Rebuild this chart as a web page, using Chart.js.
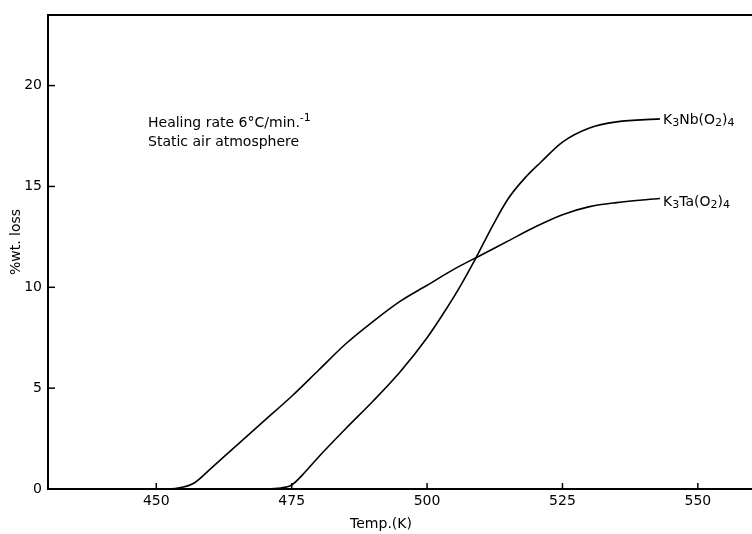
<!DOCTYPE html>
<html>
<head>
<meta charset="utf-8">
<script src="https://cdn.jsdelivr.net/npm/chart.js@4"></script>
<style>
html, body { margin: 0; padding: 0; background: #fff; }
</style>
</head>
<body>
<canvas id="chart" width="752" height="534"></canvas>
<script>
// tick labels
const xTicks = [450, 475, 500, 525, 550];
const yTicks = [0, 5, 10, 15, 20];

// K3Ta(O2)4 curve
const taTemp = [449, 452, 455, 457, 460, 465, 470, 475, 480, 485, 490, 495, 500, 505, 510, 515, 520, 525, 530, 535, 543];
const taLoss = [0, 0, 0.1, 0.3, 1.0, 2.2, 3.4, 4.6, 5.9, 7.2, 8.3, 9.3, 10.1, 10.9, 11.6, 12.3, 13.0, 13.6, 14.0, 14.2, 14.4];

// K3Nb(O2)4 curve
const nbTemp = [469, 473, 475, 477, 480, 485, 490, 495, 500, 503, 506, 509, 512, 515, 518, 521, 525, 530, 535, 543];
const nbLoss = [0, 0.05, 0.2, 0.7, 1.6, 3.0, 4.35, 5.8, 7.5, 8.7, 10.0, 11.45, 13.0, 14.4, 15.4, 16.2, 17.2, 17.9, 18.2, 18.35];

const FONT = '"DejaVu Sans", sans-serif';

function toPoints(xs, ys) {
    return xs.map((x, i) => ({ x: x, y: ys[i] }));
}

// draws text with subscripts: parts = [[text, shift], ...]
function drawParts(ctx, x, y, parts, size) {
    let cx = x;
    parts.forEach(p => {
        const small = p[1] !== 0;
        ctx.font = (small ? Math.round(size * 0.75) : size) + 'px ' + FONT;
        ctx.fillText(p[0], cx, y + p[1]);
        cx += ctx.measureText(p[0]).width;
    });
}

const framePlugin = {
    id: 'frame',
    afterDraw(chart) {
        const ctx = chart.ctx;
        const area = chart.chartArea;
        const xs = chart.scales.x;
        const ys = chart.scales.y;
        ctx.save();
        ctx.strokeStyle = '#000';
        ctx.fillStyle = '#000';

        // top frame line
        ctx.lineWidth = 2;
        ctx.beginPath();
        ctx.moveTo(area.left, area.top);
        ctx.lineTo(area.right, area.top);
        ctx.stroke();

        // inward tick marks
        ctx.lineWidth = 1.5;
        xTicks.forEach(v => {
            const px = xs.getPixelForValue(v);
            ctx.beginPath();
            ctx.moveTo(px, area.bottom);
            ctx.lineTo(px, area.bottom - 6);
            ctx.stroke();
        });
        yTicks.forEach(v => {
            const py = ys.getPixelForValue(v);
            ctx.beginPath();
            ctx.moveTo(area.left, py);
            ctx.lineTo(area.left + 7, py);
            ctx.stroke();
        });

        ctx.textBaseline = 'middle';
        ctx.textAlign = 'left';

        // annotation
        drawParts(ctx, 148, 123, [['Healing rate 6°C/min.', 0], ['-1', -5]], 14);
        drawParts(ctx, 148, 142, [['Static air atmosphere', 0]], 14);

        // series labels
        drawParts(ctx, 663, 120, [['K', 0], ['3', 3], ['Nb(O', 0], ['2', 3], [')', 0], ['4', 3]], 14);
        drawParts(ctx, 663, 202, [['K', 0], ['3', 3], ['Ta(O', 0], ['2', 3], [')', 0], ['4', 3]], 14);

        // axis titles
        ctx.textAlign = 'center';
        ctx.font = '14px ' + FONT;
        ctx.fillText('Temp.(K)', 381, 524);
        ctx.translate(16, 242);
        ctx.rotate(-Math.PI / 2);
        ctx.fillText('%wt. loss', 0, 0);
        ctx.restore();
    }
};

const lineStyle = {
    borderColor: '#000',
    borderWidth: 1.6,
    pointRadius: 0,
    fill: false,
    cubicInterpolationMode: 'monotone'
};

new Chart(document.getElementById('chart').getContext('2d'), {
    type: 'line',
    data: {
        datasets: [
            Object.assign({ label: 'K3Ta(O2)4', data: toPoints(taTemp, taLoss) }, lineStyle),
            Object.assign({ label: 'K3Nb(O2)4', data: toPoints(nbTemp, nbLoss) }, lineStyle)
        ]
    },
    options: {
        responsive: false,
        animation: false,
        devicePixelRatio: 1,
        layout: { padding: { top: 15, right: 0, left: 0, bottom: 0 } },
        plugins: {
            legend: { display: false },
            tooltip: { enabled: false }
        },
        scales: {
            x: {
                type: 'linear',
                min: 430,
                max: 560,
                afterBuildTicks: s => { s.ticks = xTicks.map(v => ({ value: v })); },
                afterFit: s => { s.height = 45; },
                grid: { display: false, drawTicks: false },
                border: { display: true, color: '#000', width: 2 },
                ticks: { color: '#000', padding: 4, maxRotation: 0, font: { family: FONT, size: 14 } }
            },
            y: {
                min: 0,
                max: 23.5,
                afterBuildTicks: s => { s.ticks = yTicks.map(v => ({ value: v })); },
                afterFit: s => { s.width = 48; },
                grid: { display: false, drawTicks: false },
                border: { display: true, color: '#000', width: 2 },
                ticks: { color: '#000', padding: 6, font: { family: FONT, size: 14 } }
            }
        }
    },
    plugins: [framePlugin]
});
</script>
</body>
</html>
